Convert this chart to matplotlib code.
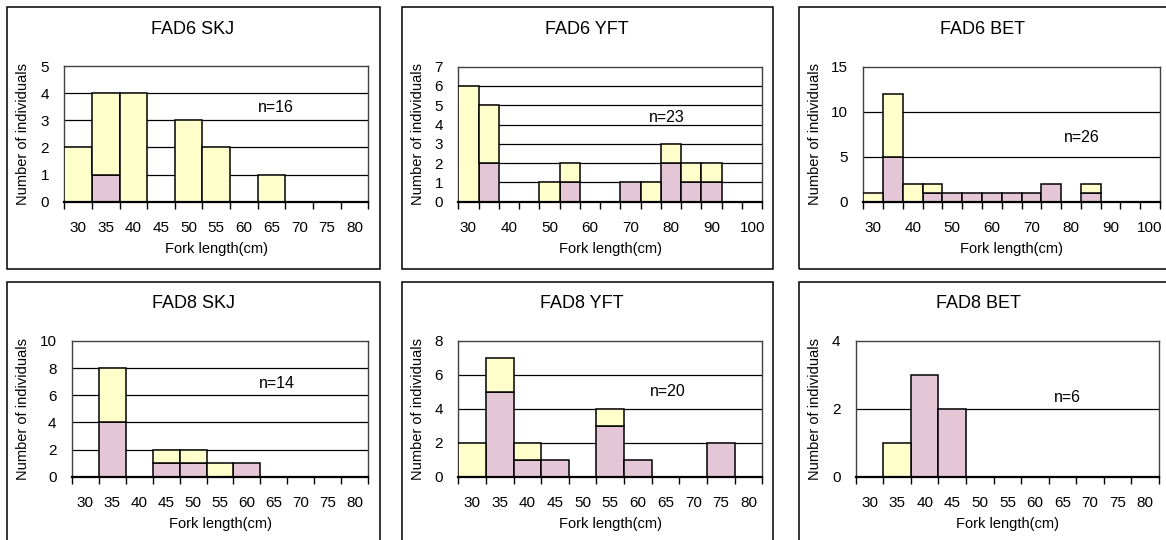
import matplotlib
matplotlib.use("Agg")
import matplotlib.pyplot as plt
from matplotlib.patches import Rectangle
import numpy as np

plt.rcParams['font.family'] = ['Liberation Sans', 'DejaVu Sans']

# Fork-length classes (cm)
bins_small = [30, 35, 40, 45, 50, 55, 60, 65, 70, 75, 80]
bins_large = [30, 35, 40, 45, 50, 55, 60, 65, 70, 75, 80, 85, 90, 95, 100]

# Counts per class: lower (pink) and upper (yellow) stacked segments
fad6_skj_pink = [0, 1, 0, 0, 0, 0, 0, 0, 0, 0, 0]
fad6_skj_yellow = [2, 3, 4, 0, 3, 2, 0, 1, 0, 0, 0]

fad6_yft_pink = [0, 2, 0, 0, 0, 1, 0, 0, 1, 0, 2, 1, 1, 0, 0]
fad6_yft_yellow = [6, 3, 0, 0, 1, 1, 0, 0, 0, 1, 1, 1, 1, 0, 0]

fad6_bet_pink = [0, 5, 0, 1, 1, 1, 1, 1, 1, 2, 0, 1, 0, 0, 0]
fad6_bet_yellow = [1, 7, 2, 1, 0, 0, 0, 0, 0, 0, 0, 1, 0, 0, 0]

fad8_skj_pink = [0, 4, 0, 1, 1, 0, 1, 0, 0, 0, 0]
fad8_skj_yellow = [0, 4, 0, 1, 1, 1, 0, 0, 0, 0, 0]

fad8_yft_pink = [0, 5, 1, 1, 0, 3, 1, 0, 0, 2, 0]
fad8_yft_yellow = [2, 2, 1, 0, 0, 1, 0, 0, 0, 0, 0]

fad8_bet_pink = [0, 0, 3, 2, 0, 0, 0, 0, 0, 0, 0]
fad8_bet_yellow = [0, 1, 0, 0, 0, 0, 0, 0, 0, 0, 0]

titles = ["FAD6 SKJ", "FAD6 YFT", "FAD6 BET", "FAD8 SKJ", "FAD8 YFT", "FAD8 BET"]
sample_sizes = ["n=16", "n=23", "n=26", "n=14", "n=20", "n=6"]
y_limits = [5, 7, 15, 10, 8, 4]
y_steps = [1, 1, 5, 2, 2, 2]

panels = [
    (bins_small, fad6_skj_pink, fad6_skj_yellow),
    (bins_large, fad6_yft_pink, fad6_yft_yellow),
    (bins_large, fad6_bet_pink, fad6_bet_yellow),
    (bins_small, fad8_skj_pink, fad8_skj_yellow),
    (bins_small, fad8_yft_pink, fad8_yft_yellow),
    (bins_small, fad8_bet_pink, fad8_bet_yellow),
]

W, H = 1166, 540
fig = plt.figure(figsize=(W / 100, H / 100), dpi=100)

# Layout in pixels: plot-area (left, right, top, bottom)
plot_boxes = [
    (64.3, 368.3, 66, 201.7),
    (458.3, 762.3, 66.7, 201.7),
    (863.3, 1160, 66.7, 201.7),
    (71.7, 368.3, 341, 476.7),
    (458.3, 762.3, 341, 476.7),
    (855.7, 1159, 341, 476.7),
]
title_pos = [(193, 29), (587, 29), (983, 29), (193, 304), (582, 304), (978, 304)]
n_pos = [(276, 108), (667, 117), (1082, 137), (277, 383), (668, 392), (1067, 398)]
ylabel_x = [22.7, 418, 815, 22.7, 418, 815]
xlabel_y = [249, 249, 249, 524, 524, 524]
frames = [
    (7, 380, 7, 269), (401.7, 772.7, 7, 269), (799, 1170, 7, 269),
    (7, 380, 282, 545), (401.7, 772.7, 282, 545), (799, 1170, 282, 545),
]

YELLOW = "#FFFFCC"
PINK = "#E5C6D6"


def fx(px):
    return px / W


def fy(py):
    return 1 - py / H


for k, ((bins, pink, yellow), box) in enumerate(zip(panels, plot_boxes)):
    l, r, t, b = box
    ax = fig.add_axes([fx(l), fy(b), fx(r) - fx(l), fy(t) - fy(b)])
    n = len(bins)
    x = np.arange(n)
    pink = np.asarray(pink)
    yellow = np.asarray(yellow)
    pk = pink > 0
    yk = yellow > 0
    ax.bar(x[pk], pink[pk], width=1.0, color=PINK, edgecolor="black",
           linewidth=1.1, zorder=3)
    ax.bar(x[yk], yellow[yk], bottom=pink[yk], width=1.0, color=YELLOW,
           edgecolor="black", linewidth=1.1, zorder=3)

    ax.set_xlim(-0.5, n - 0.5)
    ax.set_ylim(0, y_limits[k])
    yt = np.arange(0, y_limits[k] + 0.01, y_steps[k])
    ax.set_yticks(yt)
    ax.set_yticklabels([str(int(v)) for v in yt])
    ax.tick_params(axis="y", length=0, pad=11, labelsize=11)
    for v in yt[1:-1]:
        ax.axhline(v, color="black", linewidth=0.9, zorder=1)

    step = 2 if n > 11 else 1
    ax.set_xticks(x[::step])
    ax.set_xticklabels([str(v) for v in bins[::step]])
    ax.set_xticks(np.arange(-0.5, n, 1.0), minor=True)
    ax.tick_params(axis="x", which="major", length=0, pad=14, labelsize=11)
    ax.tick_params(axis="x", which="minor", length=5, width=1.0,
                   direction="out", color="black")

    for side in ("top", "left", "right"):
        ax.spines[side].set_color("#404040")
        ax.spines[side].set_linewidth(1.0)
    ax.spines["bottom"].set_color("black")
    ax.spines["bottom"].set_linewidth(1.6)
    ax.spines["bottom"].set_zorder(4)

    fig.text(fx(title_pos[k][0]), fy(title_pos[k][1]), titles[k],
             ha="center", va="center", fontsize=13)
    fig.text(fx(n_pos[k][0]), fy(n_pos[k][1]), sample_sizes[k],
             ha="center", va="center", fontsize=11.5)
    fig.text(fx(ylabel_x[k]), fy((t + b) / 2), "Number of individuals",
             ha="center", va="center", rotation=90, fontsize=10.5)
    fig.text(fx((l + r) / 2), fy(xlabel_y[k]), "Fork length(cm)",
             ha="center", va="center", fontsize=10.5)

for (l, r, t, b) in frames:
    fig.patches.append(Rectangle((fx(l), fy(b)), fx(r) - fx(l), fy(t) - fy(b),
                                 transform=fig.transFigure, fill=False,
                                 edgecolor="black", linewidth=1.1))

fig.savefig("out.png", dpi=100)
